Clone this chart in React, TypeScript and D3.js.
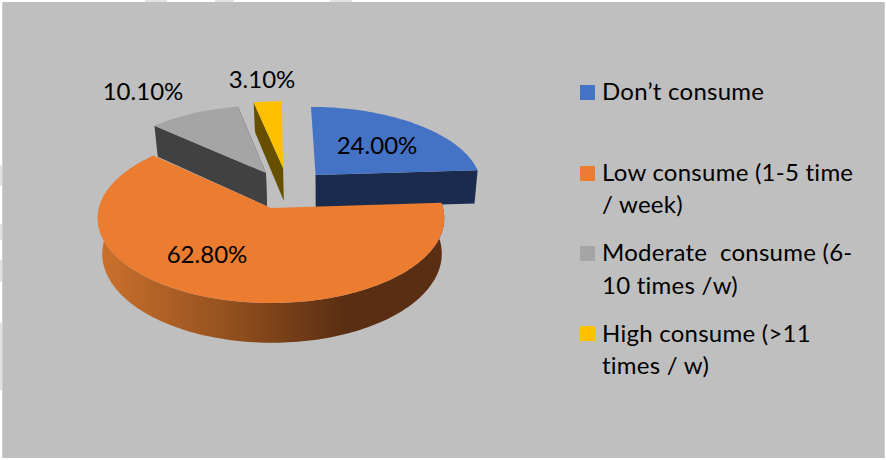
import React from "react";
import * as d3 from "d3";

// Share of respondents in each consumption group, in percent.
const categories = ["Don’t consume", "Low consume (1-5 time / week)", "Moderate consume (6-10 times /w)", "High consume (>11 times / w)"];
const shareValues = [24.0, 62.8, 10.1, 3.1];
const valueLabels = ["24.00%", "62.80%", "10.10%", "3.10%"];

const topColors = ["#4472c4", "#ec7c30", "#a5a5a5", "#ffc000"];
const sideColors = ["#1a2b4d", "url(#orangeSide)", "#414141", "#665000"];

const legendRows = [
  { lines: ["Don’t consume"], swatchY: 85, baselines: [100] },
  { lines: ["Low consume (1-5 time", "/ week)"], swatchY: 166, baselines: [181, 213] },
  { lines: ["Moderate  consume (6-", "10 times /w)"], swatchY: 246, baselines: [261, 294] },
  { lines: ["High consume (>11", "times / w)"], swatchY: 326, baselines: [342, 374] },
];

// Label anchors (text centre, baseline) and pulled-out offsets on the disc plane.
const labelSpots = [[377, 154], [207, 263], [143, 100], [262, 88]];
const explode = [[0.272, 0.414], [0, 0], [-0.031, 0.44], [0.0745, 0.508]];

// Pale paper marks showing in the margin around the grey panel.
const marginMarks = [
  [145, 0, 22, 2], [215, 0, 19, 2], [330, 0, 22, 2],
  [0, 165, 2, 21], [0, 224, 2, 16], [0, 260, 2, 22], [0, 323, 2, 67],
];

// Camera parameters of the tilted disc.
const apex = { x: 271, y: 208 };
const RX = 172, RY = 83.6, PERSP = 0.12, DEPTH = 35, TAPER = 0.98, LOW_SHIFT = 1;

type P = [number, number];
const project = (u: number, v: number): P => {
  const s = 1 / (1 + PERSP * v);
  return [apex.x + RX * u * s, apex.y - RY * v * s];
};
const dropped = (u: number, v: number): P => {
  const s = 1 / (1 + PERSP * v);
  return [apex.x + LOW_SHIFT + RX * u * s * TAPER, apex.y - RY * v * s + DEPTH * s];
};

const pieAngles = d3.pie<number>().sort(null).value((d) => d)(shareValues);
const line = d3.line();

const arcSamples = (a0: number, a1: number) => {
  const n = Math.max(2, Math.ceil((a1 - a0) * 40));
  return d3.range(n + 1).map((i) => a0 + ((a1 - a0) * i) / n);
};

function sliceShapes(i: number) {
  const { startAngle: a0, endAngle: a1 } = pieAngles[i];
  const [ox, oy] = explode[i];
  const rim = (a: number): [number, number] => [ox + Math.sin(a), oy + Math.cos(a)];
  const angles = arcSamples(a0, a1);
  const topRim = angles.map((a) => project(...rim(a)));
  const lowRim = angles.map((a) => dropped(...rim(a)));
  const top = line([project(ox, oy), ...topRim])! + "Z";
  const outer = line([...topRim, ...lowRim.slice().reverse()])! + "Z";
  // Radial walls at both ends of the wedge.
  const wall = (a: number) =>
    line([project(ox, oy), project(...rim(a)), dropped(...rim(a)), dropped(ox, oy)])! + "Z";
  return { top, outer, startWall: wall(a0), endWall: wall(a1) };
}

export default function App() {
  const shapes = shareValues.map((_, i) => sliceShapes(i));
  return (
    <svg
      width={886}
      height={460}
      style={{ position: "absolute", left: 0, top: 0, display: "block" }}
      fontFamily="Lato, 'Open Sans', sans-serif"
    >
      <defs>
        <linearGradient id="orangeSide" gradientUnits="userSpaceOnUse" x1={100} x2={345} y1={0} y2={0}>
          <stop offset="0" stopColor="#cb702d" />
          <stop offset="0.5" stopColor="#96521f" />
          <stop offset="1" stopColor="#5a2e12" />
        </linearGradient>
      </defs>
      <rect width={886} height={460} fill="#fff" />
      {marginMarks.map(([x, y, w, h]) => (
        <rect key={`${x}-${y}`} x={x} y={y} width={w} height={h} fill="#e2e2e2" />
      ))}
      <rect x={2} y={2} width={883} height={456} fill="#bfbfbf" />
      <rect x={2} y={2} width={1} height={456} fill="#cfcfcf" />
      <rect x={884} y={2} width={1} height={456} fill="#cfcfcf" />

      {/* Far wedges first, the large near wedge and its rim after them. */}
      <g>
        <path d={shapes[0].endWall} fill={sideColors[0]} />
        <path d={shapes[0].top} fill={topColors[0]} />
        <path d={shapes[3].startWall} fill={sideColors[3]} />
        <path d={shapes[3].top} fill={topColors[3]} />
        <path d={shapes[2].endWall} fill={sideColors[2]} />
        <path d={shapes[2].startWall} fill={sideColors[2]} />
        <path d={shapes[2].top} fill={topColors[2]} />
        <path d={shapes[1].outer} fill={sideColors[1]} />
        <path d={shapes[1].top} fill={topColors[1]} />
      </g>

      <g fontSize={24} fill="#000" textAnchor="middle">
        {valueLabels.map((t, i) => (
          <text key={t} x={labelSpots[i][0]} y={labelSpots[i][1]}>{t}</text>
        ))}
      </g>

      <g fontSize={24} fill="#000" letterSpacing={0.25}>
        {legendRows.map((row, i) => (
          <g key={categories[i]}>
            <rect x={580} y={row.swatchY} width={15} height={15} fill={topColors[i]} />
            {row.lines.map((l, j) => (
              <text key={l} x={602} y={row.baselines[j]} xmlSpace="preserve">{l}</text>
            ))}
          </g>
        ))}
      </g>
    </svg>
  );
}
